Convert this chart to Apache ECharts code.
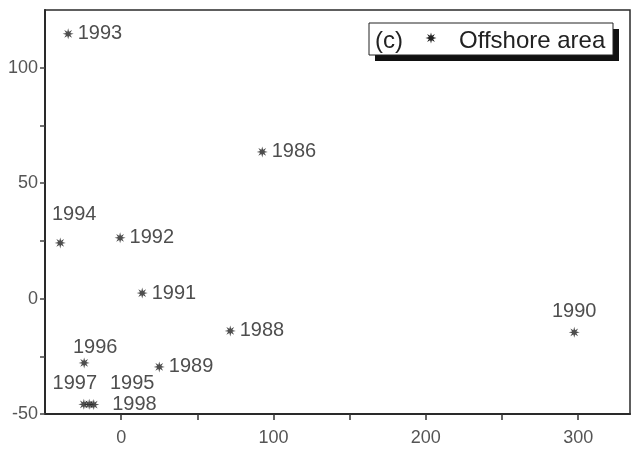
<!DOCTYPE html>
<html>
<head>
<meta charset="utf-8">
<script src="https://cdn.jsdelivr.net/npm/echarts@6/dist/echarts.min.js"></script>
<style>
html,body{margin:0;padding:0;background:#fff;}
#chart{width:631px;height:450px;}
</style>
</head>
<body>
<div id="chart"></div>
<script>
// ---- data ----
const years   = ['1986','1988','1989','1990','1991','1992','1993','1994','1995','1996','1997','1998'];
const xValues = [92.6, 71.6, 25, 297.4, 13.8, -0.7, -34.8, -40, -21, -24.3, -24.5, -18];
const yValues = [63.5, -14, -29.6, -14.6, 2.4, 26.3, 114.7, 24.1, -45.8, -27.9, -45.8, -45.9];
const xTicks  = [0, 100, 200, 300];
const yTicks  = [-50, 0, 50, 100];
const legendPrefix = '(c)';
const seriesName = 'Offshore area';

// ---- styling ----
const labelStyle = {
  '1986': {position: 'right', offset: [-1, 0]},
  '1988': {position: 'right', offset: [-1, 0]},
  '1989': {position: 'right', offset: [-1, 0]},
  '1990': {position: 'top', offset: [0, 0]},
  '1991': {position: 'right', offset: [-1, 0]},
  '1992': {position: 'right', offset: [-1, 0]},
  '1993': {position: 'right', offset: [-1, 0]},
  '1994': {position: 'top', offset: [14, -8]},
  '1995': {position: 'top', offset: [43, 0]},
  '1996': {position: 'top', offset: [11, 5]},
  '1997': {position: 'top', offset: [-9, 0]},
  '1998': {position: 'right', offset: [8, 0]}
};

function starPoints(cx, cy, R) {
  const pts = [];
  for (let k = 0; k < 16; k++) {
    const r = (k % 2 === 0) ? R : R * 0.42;
    const a = (-90 + k * 22.5) * Math.PI / 180;
    pts.push([cx + r * Math.cos(a), cy + r * Math.sin(a)]);
  }
  return pts;
}
function starPath() {
  return starPoints(10, 10, 10).map((p, k) => (k === 0 ? 'M' : 'L') + p[0].toFixed(3) + ' ' + p[1].toFixed(3)).join(' ') + ' Z';
}
const STAR = 'path://' + starPath();

const points = years.map((yr, i) => ({
  value: [xValues[i], yValues[i], yr],
  label: {
    show: true,
    formatter: yr,
    position: labelStyle[yr].position,
    offset: labelStyle[yr].offset,
    distance: 5
  }
}));

const chart = echarts.init(document.getElementById('chart'), null, {renderer: 'canvas'});
const FONT = 'Liberation Sans, Arial, sans-serif';

chart.setOption({
  animation: false,
  backgroundColor: '#ffffff',
  grid: {
    left: 45, top: 10, right: 1, bottom: 36,
    show: true, borderColor: '#2a2a2a', borderWidth: 1.5, backgroundColor: 'transparent'
  },
  xAxis: {
    type: 'value',
    min: -50, max: 334,
    interval: 50,
    splitLine: {show: false},
    axisLine: {show: true, onZero: false, lineStyle: {color: '#2a2a2a', width: 2}},
    axisTick: {show: true, inside: false, length: 6, customValues: xTicks.concat([50, 150, 250]), lineStyle: {color: '#333', width: 1.5}},
    axisLabel: {customValues: xTicks, color: '#555', fontSize: 18, fontFamily: FONT, margin: 15}
  },
  yAxis: {
    type: 'value',
    min: -50, max: 125,
    interval: 50,
    splitLine: {show: false},
    axisLine: {show: true, onZero: false, lineStyle: {color: '#2a2a2a', width: 2}},
    axisTick: {show: true, inside: false, length: 5, customValues: yTicks.concat([-25, 25, 75]), lineStyle: {color: '#444', width: 1.5}},
    axisLabel: {customValues: yTicks, color: '#555', fontSize: 18, fontFamily: FONT, margin: 7}
  },
  series: [{
    type: 'scatter',
    name: seriesName,
    symbol: STAR,
    symbolSize: 11,
    itemStyle: {color: '#222'},
    label: {color: '#222', fontSize: 20, fontFamily: FONT},
    data: points
  }],
  graphic: [
    {type: 'rect', z: 100, shape: {x: 375, y: 29, width: 244, height: 32}, style: {fill: '#111'}},
    {type: 'rect', z: 101, shape: {x: 369, y: 23, width: 244, height: 32}, style: {fill: '#fff', stroke: '#222', lineWidth: 1}},
    {type: 'text', z: 102, x: 375, y: 41, style: {text: legendPrefix, font: '24px ' + FONT, fill: '#222', verticalAlign: 'middle'}},
    {type: 'polygon', z: 102, shape: {points: starPoints(431, 38, 5.5)}, style: {fill: '#222'}},
    {type: 'text', z: 102, x: 459, y: 41, style: {text: seriesName, font: '24px ' + FONT, fill: '#222', verticalAlign: 'middle'}}
  ]
});
</script>
</body>
</html>
